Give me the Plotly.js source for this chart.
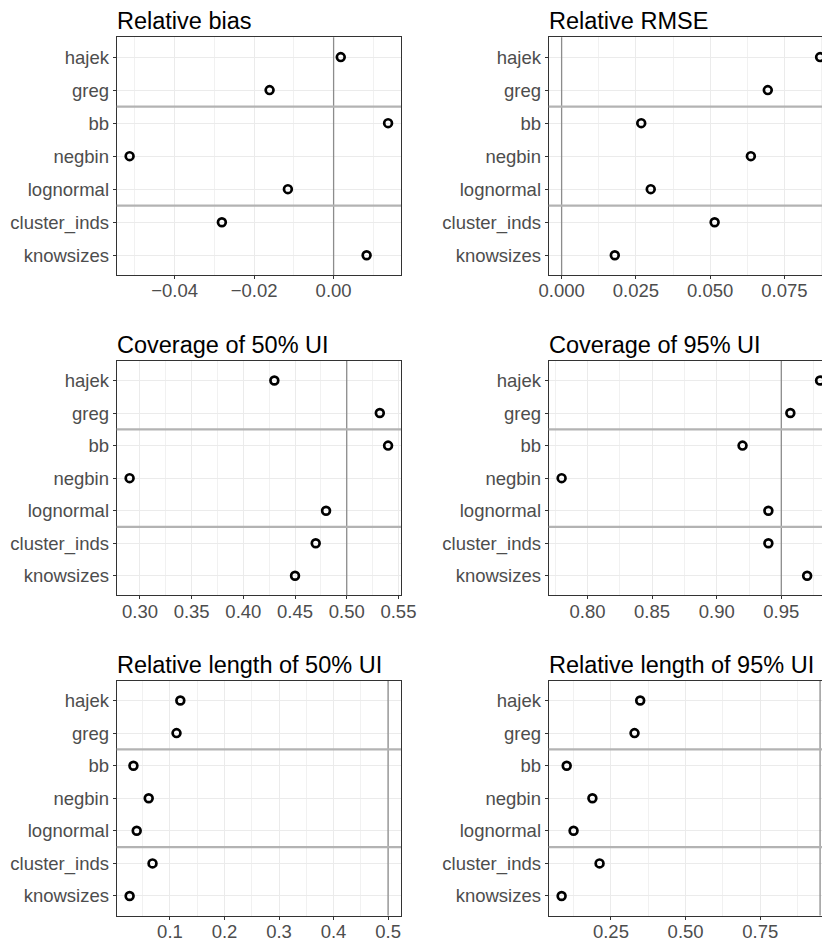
<!DOCTYPE html>
<html>
<head>
<meta charset="utf-8">
<script src="https://cdn.plot.ly/plotly-3.0.1.min.js"></script>
<style>
html, body { margin: 0; padding: 0; overflow: hidden; background: #ffffff; }
#chart { width: 864px; height: 941px; }
</style>
</head>
<body>
<div id="chart"></div>
<script>
// ---- data ----
var methods = ['hajek', 'greg', 'bb', 'negbin', 'lognormal', 'cluster_inds', 'knowsizes'];
var relBias = [0.0018, -0.0161, 0.0137, -0.0513, -0.0115, -0.0281, 0.0083];
var relRmse = [0.087, 0.0694, 0.0268, 0.0637, 0.0300, 0.0515, 0.0179];
var cov50 = [0.43, 0.532, 0.54, 0.29, 0.48, 0.47, 0.45];
var cov95 = [0.98, 0.957, 0.92, 0.78, 0.94, 0.94, 0.97];
var len50 = [0.119, 0.112, 0.033, 0.061, 0.039, 0.068, 0.026];
var len95 = [0.348, 0.329, 0.102, 0.188, 0.125, 0.212, 0.085];
var panelTitles = ['Relative bias', 'Relative RMSE', 'Coverage of 50% UI', 'Coverage of 95% UI',
                   'Relative length of 50% UI', 'Relative length of 95% UI'];
var refValues = [0, 0, 0.5, 0.95, 0.5, 0.95];
var separators = [1.5, 4.5];
var tickSteps = [0.02, 0.025, 0.05, 0.05, 0.1, 0.25];
var tickFormats = ['.2f', '.3f', '.2f', '.2f', '.1f', '.2f'];

var series = [relBias, relRmse, cov50, cov95, len50, len95];

// ---- layout geometry ----
var W = 864, H = 941;
var colX = [[116.7, 401.0], [548.7, 833.0]];
var rowY = [[37.3, 275.0], [361.0, 595.3], [681.0, 915.5]];

var font = 'Liberation Sans, Arial, Helvetica, sans-serif';
var traces = [], shapes = [], annotations = [];
var layout = {
  width: W, height: H,
  margin: {l: 0, r: 0, t: 0, b: 0},
  paper_bgcolor: '#ffffff', plot_bgcolor: '#ffffff',
  showlegend: false,
  font: {family: font, size: 18.5, color: '#4D4D4D'}
};

for (var i = 0; i < 6; i++) {
  var col = i % 2, row = Math.floor(i / 2);
  var sfx = i === 0 ? '' : String(i + 1);
  var xa = 'x' + sfx, ya = 'y' + sfx;
  var vals = series[i];
  var lo = Math.min.apply(null, vals.concat([refValues[i]]));
  var hi = Math.max.apply(null, vals.concat([refValues[i]]));
  var pad = 0.05 * (hi - lo);
  var xd = [colX[col][0] / W, colX[col][1] / W];
  var yd = [1 - rowY[row][1] / H, 1 - rowY[row][0] / H];

  traces.push({
    type: 'scatter', mode: 'markers',
    x: vals, y: methods, xaxis: xa, yaxis: ya,
    marker: {symbol: 'circle-open', size: 7.8, color: '#000000', line: {width: 2.7, color: '#000000'}},
    hoverinfo: 'x+y', cliponaxis: false
  });

  layout['xaxis' + sfx] = {
    domain: xd, anchor: ya, range: [lo - pad, hi + pad],
    dtick: tickSteps[i], tick0: 0, tickformat: tickFormats[i],
    showgrid: true, gridcolor: '#EBEBEB', gridwidth: 1,
    minor: {dtick: tickSteps[i] / 2, tick0: 0, showgrid: true, gridcolor: '#EBEBEB', gridwidth: 0.7, ticklen: 0},
    zeroline: false,
    showline: true, mirror: true, linecolor: '#333333', linewidth: 1,
    ticks: 'outside', ticklen: 3, tickcolor: '#333333', tickwidth: 1,
    ticklabelstandoff: -4,
    tickfont: {family: font, size: 18.5, color: '#4D4D4D'},
    fixedrange: true
  };
  layout['yaxis' + sfx] = {
    domain: yd, anchor: xa, type: 'category',
    categoryorder: 'array', categoryarray: methods,
    range: [methods.length - 0.4, -0.6],
    showgrid: true, gridcolor: '#EBEBEB', gridwidth: 1,
    zeroline: false,
    showline: true, mirror: true, linecolor: '#333333', linewidth: 1,
    ticks: 'outside', ticklen: 3, tickcolor: '#333333', tickwidth: 1,
    tickfont: {family: font, size: 18.5, color: '#4D4D4D'},
    fixedrange: true
  };

  // reference vertical line
  shapes.push({
    type: 'line', xref: xa, yref: ya + ' domain',
    x0: refValues[i], x1: refValues[i], y0: 0, y1: 1,
    line: {color: '#8C8C8C', width: 1.3}, layer: 'above'
  });
  // group separators
  separators.forEach(function (s) {
    shapes.push({
      type: 'line', xref: xa + ' domain', yref: ya,
      x0: 0, x1: 1, y0: s, y1: s,
      line: {color: '#B3B3B3', width: 2.2}, layer: 'above'
    });
  });

  annotations.push({
    text: panelTitles[i], showarrow: false,
    xref: 'paper', yref: 'paper',
    x: xd[0], y: yd[1], xanchor: 'left', yanchor: 'bottom',
    xshift: -2, yshift: 1,
    font: {family: font, size: 23.5, color: '#000000'}
  });
}

layout.shapes = shapes;
layout.annotations = annotations;

Plotly.newPlot('chart', traces, layout, {displayModeBar: false, staticPlot: true});
</script>
</body>
</html>
